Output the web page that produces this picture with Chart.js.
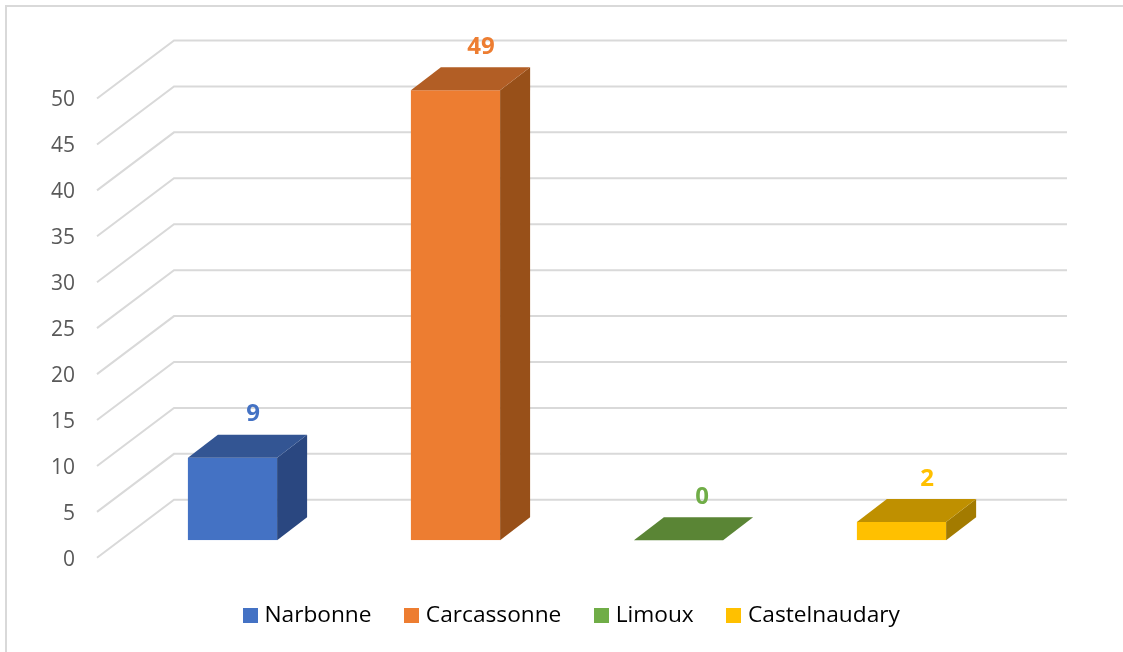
<!DOCTYPE html>
<html>
<head>
<meta charset="utf-8">
<script src="https://cdn.jsdelivr.net/npm/chart.js@4"></script>
<style>
  html, body { margin: 0; padding: 0; background: #fff; overflow: hidden; }
  #frame { position: absolute; left: 5px; top: 5px; width: 1117px; height: 660px; border-left: 2px solid #d9d9d9; border-top: 2px solid #d9d9d9; }
  #chart { position: absolute; left: 0; top: 0; }
</style>
</head>
<body>
<div id="frame"></div>
<canvas id="chart" width="1123" height="652"></canvas>
<script>
const categories = ['Narbonne', 'Carcassonne', 'Limoux', 'Castelnaudary'];
const values = [9, 49, 0, 2];
const frontColors = ['#4472C4', '#ED7D31', '#70AD47', '#FFC000'];
const topColors = ['#335593', '#B25E25', '#5A8535', '#BF9000'];
const sideColors = ['#2A4780', '#985019', '#4A6E2C', '#A37B00'];

const fontFamily = '"Open Sans", sans-serif';
const depthX = 30, depthY = 23;
// Labels don't sit at the same spot over each bar in the original
const labelShift = [20.5, 25.5, 23.5, 25.5];

// Square legend marker, drawn on its own canvas so the text can sit close to it
function legendMarker(color) {
  const c = document.createElement('canvas');
  c.width = 15;
  c.height = 15;
  const g = c.getContext('2d');
  g.fillStyle = color;
  g.fillRect(0, 0, 15, 15);
  return c;
}

// Floor and back wall lines
const gridPlugin = {
  id: 'grid3d',
  // The legend is not centred on the page in the original
  afterLayout(chart) {
    chart.legend.left += 67;
    chart.legend.right += 67;
  },
  beforeDatasetsDraw(chart) {
    const { ctx, chartArea, scales } = chart;
    const frontX = chartArea.left - 24;
    const wallX = chartArea.left + 53;
    const endX = chartArea.right + 54;
    ctx.save();
    ctx.strokeStyle = '#D9D9D9';
    ctx.lineWidth = 2;
    scales.y.ticks.forEach(t => {
      const y = scales.y.getPixelForValue(t.value);
      ctx.beginPath();
      ctx.moveTo(frontX, y + 17.5);
      ctx.lineTo(wallX, y - 40.5);
      ctx.lineTo(endX, y - 40.5);
      ctx.stroke();
    });
    ctx.restore();
  }
};

// Top and side faces of the bars, plus the value labels
const boxPlugin = {
  id: 'box3d',
  afterDatasetsDraw(chart) {
    const { ctx } = chart;
    const bars = chart.getDatasetMeta(0).data;
    ctx.save();
    bars.forEach((bar, i) => {
      const left = bar.x - bar.width / 2;
      const right = bar.x + bar.width / 2;

      ctx.fillStyle = sideColors[i];
      ctx.beginPath();
      ctx.moveTo(right, bar.y);
      ctx.lineTo(right + depthX, bar.y - depthY);
      ctx.lineTo(right + depthX, bar.base - depthY);
      ctx.lineTo(right, bar.base);
      ctx.closePath();
      ctx.fill();

      ctx.fillStyle = topColors[i];
      ctx.beginPath();
      ctx.moveTo(left, bar.y);
      ctx.lineTo(left + depthX, bar.y - depthY);
      ctx.lineTo(right + depthX, bar.y - depthY);
      ctx.lineTo(right, bar.y);
      ctx.closePath();
      ctx.fill();

      ctx.fillStyle = frontColors[i];
      ctx.font = 'bold 24px ' + fontFamily;
      ctx.textAlign = 'center';
      ctx.textBaseline = 'middle';
      ctx.fillText(String(values[i]), bar.x + labelShift[i], bar.y - depthY - 20);
    });
    ctx.restore();
  }
};

new Chart(document.getElementById('chart'), {
  type: 'bar',
  data: {
    labels: categories,
    datasets: [{
      data: values,
      backgroundColor: frontColors,
      categoryPercentage: 1,
      barPercentage: 0.4
    }]
  },
  options: {
    responsive: false,
    animation: false,
    layout: { padding: { left: 0, right: 110, top: 81, bottom: 15 } },
    scales: {
      x: {
        grid: { display: false },
        border: { display: false },
        ticks: { display: false },
        afterFit: s => { s.height = 27; }
      },
      y: {
        min: 0,
        max: 50,
        grid: { display: false, drawTicks: false },
        border: { display: false },
        afterFit: s => { s.width = 121; },
        ticks: {
          stepSize: 5,
          padding: 46,
          labelOffset: 19.5,
          color: '#595959',
          font: { family: fontFamily, size: 21 }
        }
      }
    },
    plugins: {
      tooltip: { enabled: false },
      legend: {
        position: 'bottom',
        labels: {
          color: '#000',
          font: { family: fontFamily, size: 22.7 },
          usePointStyle: true,
          pointStyleWidth: 6,
          padding: 37,
          generateLabels: () => categories.map((name, i) => ({
            text: name,
            pointStyle: legendMarker(frontColors[i]),
            fontColor: '#000',
            lineWidth: 0,
            index: i
          }))
        }
      }
    }
  },
  plugins: [gridPlugin, boxPlugin]
});
</script>
</body>
</html>
